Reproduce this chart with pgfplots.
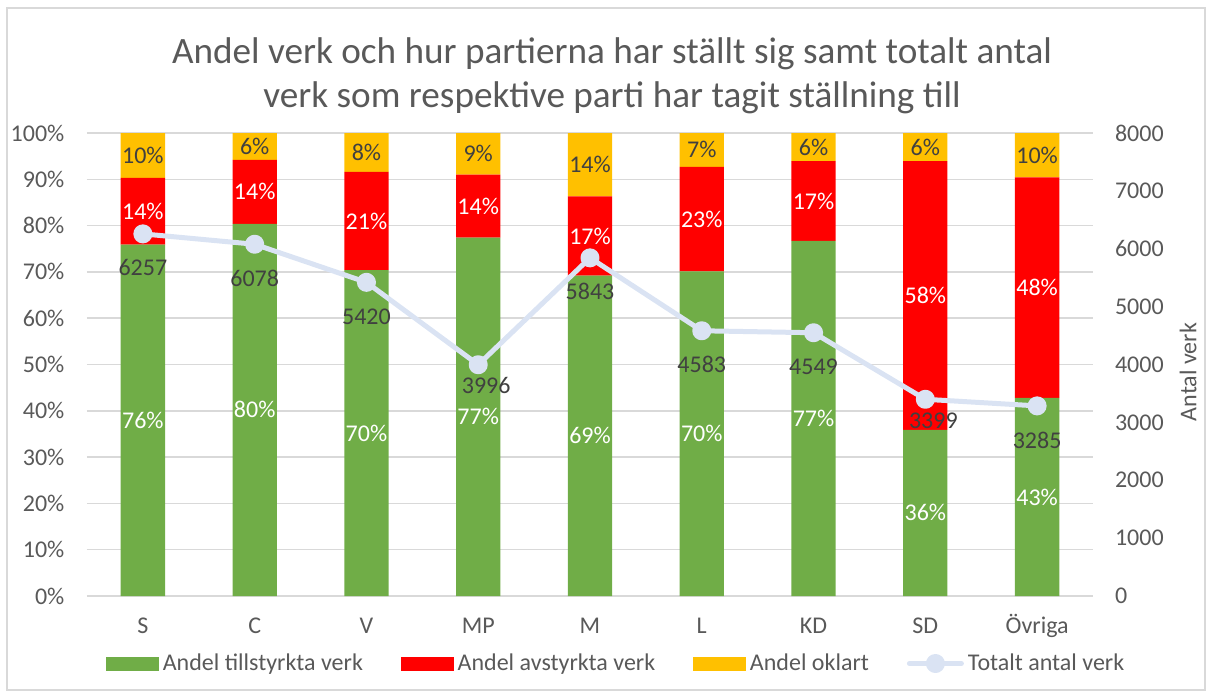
\documentclass[border=0pt]{standalone}
\usepackage{fontspec}
\setmainfont{Carlito}
\usepackage{pgfplots}
\usepackage{pgfplotstable}
\pgfplotsset{compat=1.18}
\definecolor{cgreen}{RGB}{112,173,71}
\definecolor{cred}{RGB}{255,0,0}
\definecolor{cyellow}{RGB}{255,192,0}
\definecolor{cline}{RGB}{218,227,243}
\definecolor{cgrid}{RGB}{217,217,217}
\definecolor{ctick}{RGB}{89,89,89}
\definecolor{clab}{RGB}{64,64,64}
\newcommand\tfont{\fontsize{12}{14}\selectfont}

% andel (procent) per parti och totalt antal verk; dx/dy = etikettens läge under punkten (pt)
\pgfplotstableread{
cat g r y n dx dy
S 75.9 14.4 9.7 6257 0 17
C 80.4 13.8 5.8 6078 0 17
V 70.4 21.2 8.4 5420 0 17
MP 77.4 13.6 9.0 3996 4 10.5
M 69.2 17.1 13.7 5843 0 17
L 70.1 22.6 7.3 4583 0 17
KD 76.7 17.2 6.1 4549 0 17
SD 35.9 58.0 6.1 3399 4 10.5
Övriga 42.8 47.6 9.6 3285 0 17
}\data

\pgfplotsset{
  base/.style={at={(0,0)},anchor=south west,scale only axis,width=503pt,height=231.5pt,
    xmin=-0.5,xmax=8.5,axis line style={draw=none},tick style={draw=none},
    /pgf/number format/assume math mode=true,/pgf/number format/1000 sep={},
    tick label style={font=\tfont,text=ctick}},
  seglab/.style={nodes near coords={\pgfmathprintnumber[fixed,precision=0]{\rawv}\%},
    visualization depends on={\thisrow{#1}\as\rawv},
    every node near coord/.append style={anchor=center,font=\tfont}},
}

\begin{document}
\begin{tikzpicture}
\useasboundingbox (-43.5pt,-51pt) rectangle (563pt,298pt);
\draw[cgrid,line width=0.75pt] (-40pt,-47pt) rectangle (559pt,294pt);

\begin{axis}[base,ybar stacked,bar width=22.15pt,ymin=0,ymax=100,
  ytick={0,10,...,100},yticklabel={\pgfmathprintnumber{\tick}\%},
  ymajorgrids,major grid style={cgrid,line width=0.75pt},
  xtick={0,...,8},xticklabels from table={\data}{cat},
  xticklabel style={anchor=base,yshift=-18.75pt},
  yticklabel style={xshift=-7.8pt}]
\addplot[fill=cgreen,draw=none,seglab=g,every node near coord/.append style={text=white}]
  table[x expr=\coordindex,y=g]{\data};
\addplot[fill=cred,draw=none,seglab=r,every node near coord/.append style={text=white}]
  table[x expr=\coordindex,y=r]{\data};
\addplot[fill=cyellow,draw=none,seglab=y,every node near coord/.append style={text=clab}]
  table[x expr=\coordindex,y=y]{\data};
\end{axis}

\begin{axis}[base,axis x line=none,axis y line*=right,ymin=0,ymax=8000,
  ytick={0,1000,...,8000},scaled y ticks=false,
  yticklabel style={xshift=7.5pt},
  ylabel={Antal verk},ylabel style={at={(rel axis cs:1,0.484)},anchor=center,yshift=-47.5pt,font=\tfont,text=ctick},
  legend columns=4,
  legend style={draw=none,fill=none,at={(0.527,-0.1458)},anchor=center,font=\tfont,text=ctick,
    nodes={inner sep=2pt},/tikz/every even column/.append style={column sep=17pt}}]
\addlegendimage{legend image code/.code={\fill[cgreen] (0pt,-3.25pt) rectangle (26pt,3.25pt);}}
\addlegendentry{Andel tillstyrkta verk}
\addlegendimage{legend image code/.code={\fill[cred] (0pt,-3.25pt) rectangle (26pt,3.25pt);}}
\addlegendentry{Andel avstyrkta verk}
\addlegendimage{legend image code/.code={\fill[cyellow] (0pt,-3.25pt) rectangle (26pt,3.25pt);}}
\addlegendentry{Andel oklart}
\addplot[cline,line width=2.5pt,line join=round,mark=*,mark size=3.5pt,
  mark options={fill=cline,draw=cline},
  legend image code/.code={\draw[cline,line width=2.5pt,line cap=round] (0pt,0pt) -- (26pt,0pt);
    \fill[cline] (13pt,0pt) circle (3.5pt);},
  nodes near coords,
  visualization depends on={\thisrow{dx}\as\ldx},
  visualization depends on={\thisrow{dy}\as\ldy},
  every node near coord/.append style={anchor=center,xshift={\ldx*1pt},yshift={-\ldy*1pt},font=\tfont,text=clab}]
  table[x expr=\coordindex,y=n]{\data};
\addlegendentry{Totalt antal verk}
\end{axis}

\node[anchor=base,font=\fontsize{18.6}{21}\selectfont,text=ctick] at (262.5pt,266.5pt)
  {Andel verk och hur partierna har ställt sig samt totalt antal};
\node[anchor=base,font=\fontsize{18.6}{21}\selectfont,text=ctick] at (262.5pt,244.5pt)
  {verk som respektive parti har tagit ställning till};
\end{tikzpicture}
\end{document}
